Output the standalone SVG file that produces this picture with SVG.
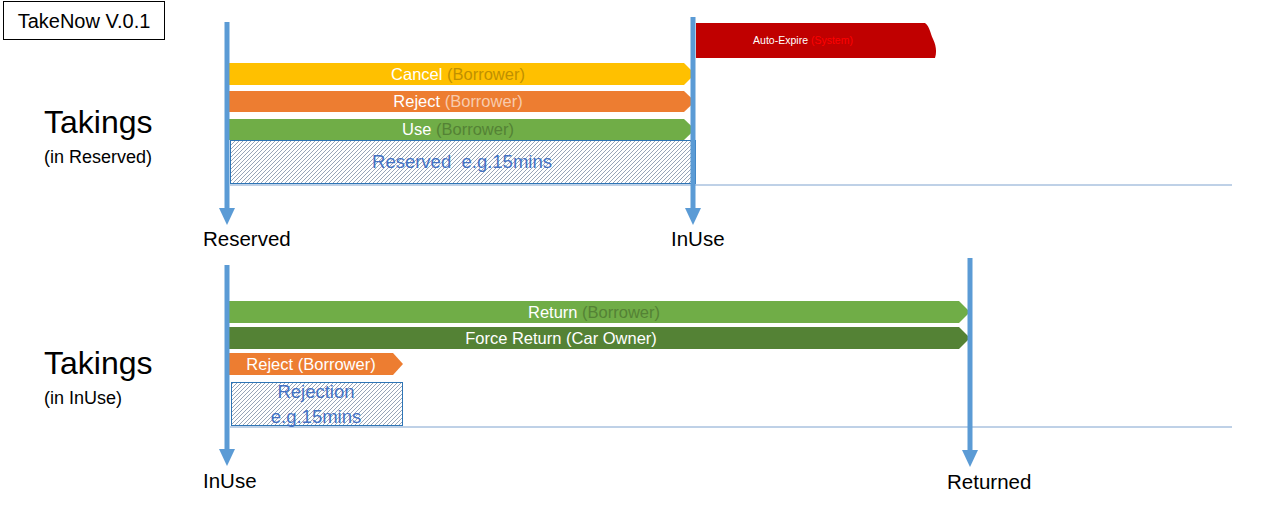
<svg xmlns="http://www.w3.org/2000/svg" width="1280" height="531" viewBox="0 0 1280 531">
<style>
text{font-family:"Liberation Sans",Arial,sans-serif;}
.lbl{font-size:20.5px;fill:#000;}
.big{font-size:32px;fill:#000;}
.sub{font-size:18px;fill:#000;}
.bar{font-size:16.5px;fill:#fff;text-anchor:middle;}
.box{fill:url(#hatch);stroke:#2E75B6;stroke-width:1;}
.boxt{font-size:18.5px;fill:#4472C4;text-anchor:middle;white-space:pre;}
.axis{stroke:#5B9BD5;stroke-width:5;fill:none;}
.base{stroke:#7FA3CF;stroke-width:1;fill:none;}
</style>
<defs>
<pattern id="hatch" patternUnits="userSpaceOnUse" width="4" height="4">
<rect width="4" height="4" fill="#fff"/>
<path d="M-1,1 L1,-1 M0,4 L4,0 M3,5 L5,3" stroke="#8C9BB0" stroke-width="0.9"/>
</pattern>
<marker id="ah" markerUnits="userSpaceOnUse" markerWidth="18" markerHeight="18" refX="0" refY="9" orient="auto">
<path d="M0,1 L17,9 L0,17 Z" fill="#5B9BD5"/>
</marker>
</defs>

<g id="title">
<rect x="3.5" y="1.5" width="161" height="38" fill="#fff" stroke="#000" stroke-width="1"/>
<text x="84" y="28" font-size="20" text-anchor="middle">TakeNow V.0.1</text>
</g>

<g id="section-reserved-label">
<text class="big" x="44" y="133">Takings</text>
<text class="sub" x="44" y="163">(in Reserved)</text>
</g>
<g id="section-inuse-label">
<text class="big" x="44" y="374">Takings</text>
<text class="sub" x="44" y="404">(in InUse)</text>
</g>

<g id="baselines">
<path class="base" d="M230,185 H1232"/>
<path class="base" d="M230,427 H1232"/>
</g>

<g id="box-reserved">
<rect class="box" x="230.5" y="140.5" width="465" height="43"/>
<text class="boxt" x="462" y="168">Reserved  e.g.15mins</text>
</g>
<g id="box-rejection">
<rect class="box" x="231.5" y="382.5" width="171" height="43"/>
<text class="boxt" x="316" y="398">Rejection</text>
<text class="boxt" x="316" y="423">e.g.15mins</text>
</g>

<g id="bar-cancel">
<path d="M227,63 H684 L695,74 L684,85 H227 Z" fill="#FFC000"/>
<text class="bar" x="458" y="80">Cancel <tspan fill="#BF9000">(Borrower)</tspan></text>
</g>
<g id="bar-reject">
<path d="M227,91 H684 L695,101.5 L684,112 H227 Z" fill="#ED7D31"/>
<text class="bar" x="458" y="107">Reject <tspan fill="#F8CBAD">(Borrower)</tspan></text>
</g>
<g id="bar-use">
<path d="M227,119 H684 L695,129.5 L684,140 H227 Z" fill="#70AD47"/>
<text class="bar" x="458" y="135">Use <tspan fill="#548235">(Borrower)</tspan></text>
</g>
<g id="bar-autoexpire">
<path d="M696,23 H925 C930,27 930,33 933,39 C936,45 937,52 935,58 H696 Z" fill="#C00000"/>
<text x="803" y="44" font-size="10.5" fill="#fff" text-anchor="middle">Auto-Expire <tspan fill="#FF0000">(System)</tspan></text>
</g>

<g id="bar-return">
<path d="M227,301 H959 L970,312 L959,323 H227 Z" fill="#70AD47"/>
<text class="bar" x="594" y="318">Return <tspan fill="#548235">(Borrower)</tspan></text>
</g>
<g id="bar-force-return">
<path d="M227,327 H959 L970,338 L959,349 H227 Z" fill="#548235"/>
<text class="bar" x="561" y="344">Force Return (Car Owner)</text>
</g>
<g id="bar-reject2">
<path d="M227,353 H393 L403,364 L393,375 H227 Z" fill="#ED7D31"/>
<text class="bar" x="311" y="370" fill="#FBE5D6">Reject (Borrower)</text>
</g>

<g id="connectors">
<path class="axis" d="M227,22 V208" marker-end="url(#ah)"/>
<path class="axis" d="M693,17 V208" marker-end="url(#ah)"/>
<path class="axis" d="M227,265 V449" marker-end="url(#ah)"/>
<path class="axis" d="M970,258 V450" marker-end="url(#ah)"/>
</g>

<g id="state-reserved"><text class="lbl" x="203" y="246">Reserved</text></g>
<g id="state-inuse-top"><text class="lbl" x="671" y="246">InUse</text></g>
<g id="state-inuse-bottom"><text class="lbl" x="203" y="488">InUse</text></g>
<g id="state-returned"><text class="lbl" x="947" y="489">Returned</text></g>
</svg>
